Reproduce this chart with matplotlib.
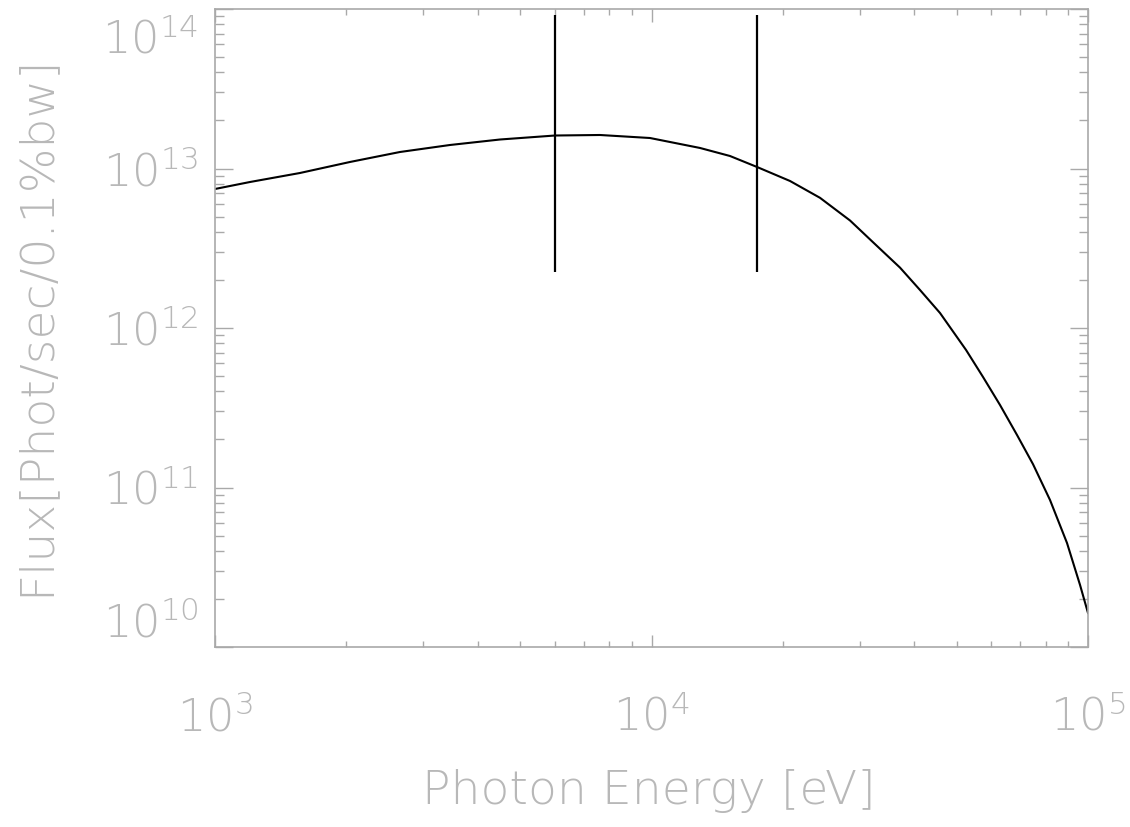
import matplotlib
matplotlib.use("Agg")
import matplotlib.pyplot as plt
import matplotlib.transforms as mtransforms
from matplotlib.ticker import FixedLocator, LogLocator, NullFormatter

# ---- data ----
energy_ev = [1000, 1203, 1565, 2039, 2653, 3454, 4498, 6010, 7621, 9921,
             12915, 15126, 17450, 20765, 24322, 28500, 32170, 37100, 41220,
             45810, 52560, 57480, 62870, 68770, 74820, 81840, 89510, 95880,
             100000]
flux = [7.44e12, 8.23e12, 9.37e12, 1.099e13, 1.269e13, 1.404e13, 1.520e13,
        1.610e13, 1.622e13, 1.553e13, 1.345e13, 1.198e13, 1.022e13, 8.35e12,
        6.55e12, 4.72e12, 3.45e12, 2.39e12, 1.731e12, 1.242e12, 7.28e11,
        4.93e11, 3.29e11, 2.134e11, 1.40e11, 8.35e10, 4.49e10, 2.45e10,
        1.634e10]
marker_energies = [6010, 17450]
marker_flux_range = [2.24e12, 9.2e13]

x_ticks = [1e3, 1e4, 1e5]
x_ticklabels = [r"$\mathregular{10^{3}}$", r"$\mathregular{10^{4}}$", r"$\mathregular{10^{5}}$"]
y_ticks = [1e10, 1e11, 1e12, 1e13, 1e14]
y_ticklabels = [r"$\mathregular{10^{10}}$", r"$\mathregular{10^{11}}$",
                r"$\mathregular{10^{12}}$", r"$\mathregular{10^{13}}$",
                r"$\mathregular{10^{14}}$"]
xlim = (1e3, 1e5)
ylim = (1e10, 1e14)
xlabel = "Photon Energy [eV]"
ylabel = "Flux[Phot/sec/0.1%bw]"

# ---- style ----
plt.rcParams['font.family'] = ['DejaVu Sans']
plt.rcParams['font.weight'] = 'light'
plt.rcParams['mathtext.default'] = 'regular'

axis_color = "#a9a9a9"
text_color = "#b8b8b8"

fig = plt.figure(figsize=(11.3, 8.27), dpi=100)
ax = fig.add_axes([215/1130, 1-647/827, (1088-215)/1130, (647-9)/827])

ax.plot(energy_ev, flux, color="black", lw=1.5, solid_joinstyle="round")
ax.vlines(marker_energies, marker_flux_range[0], marker_flux_range[1],
          color="black", lw=1.6)

ax.set_xscale("log")
ax.set_yscale("log")
ax.set_xlim(*xlim)
ax.set_ylim(*ylim)

ax.xaxis.set_major_locator(FixedLocator(x_ticks))
ax.yaxis.set_major_locator(FixedLocator(y_ticks))
ax.xaxis.set_minor_locator(LogLocator(base=10, subs=range(2, 10)))
ax.yaxis.set_minor_locator(LogLocator(base=10, subs=range(2, 10)))
ax.xaxis.set_minor_formatter(NullFormatter())
ax.yaxis.set_minor_formatter(NullFormatter())
ax.set_xticklabels(x_ticklabels)
ax.set_yticklabels(y_ticklabels)

for s in ax.spines.values():
    s.set_color(axis_color)
    s.set_linewidth(1.2)

ax.tick_params(axis="both", which="both", direction="in", colors=axis_color,
               top=True, right=True, width=1.0, labelcolor=text_color,
               labelsize=32)
ax.tick_params(axis="x", which="major", length=9, pad=35)
ax.tick_params(axis="x", which="minor", length=4.5)
ax.tick_params(axis="y", which="major", length=13, pad=12)
ax.tick_params(axis="y", which="minor", length=6.5)

# keep end labels inside the axis range like the reference
yt = ax.yaxis.get_major_ticks()
yt[0].label1.set_va("bottom")
yt[-1].label1.set_va("top")
yt[-1].label1.set_transform(yt[-1].label1.get_transform() +
                            mtransforms.ScaledTranslation(0, -7/72, fig.dpi_scale_trans))

fig.text(649/1130, 1-791/827, xlabel, ha="center", va="center",
         fontsize=34, color=text_color)
fig.text(35/1130, 1-325/827, ylabel, ha="center", va="center", rotation=90,
         fontsize=34, color=text_color)

fig.savefig("out.png", dpi=100)
